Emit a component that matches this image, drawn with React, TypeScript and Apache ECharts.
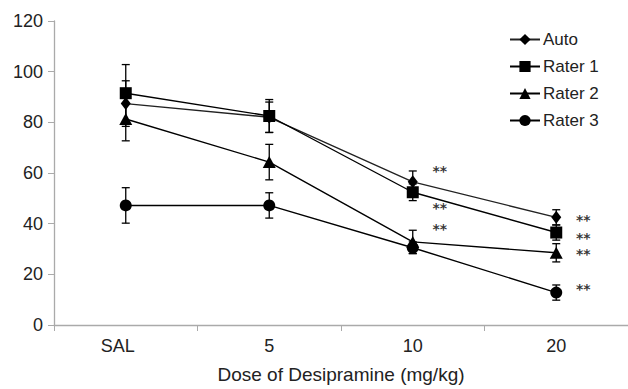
import React, { useEffect, useRef } from "react";
import * as echarts from "echarts";

const categories = ["SAL", "5", "10", "20"];
const autoValues = [87.4, 82, 56.5, 42.5];
const rater1Values = [91.5, 82.5, 52.4, 36.5];
const rater2Values = [81.3, 64.3, 32.8, 28.5];
const rater3Values = [47.2, 47.2, 30.5, 12.8];
const autoErr = [9, 6, 4.3, 3];
const rater1Err = [11.3, 6.5, 3.3, 3];
const rater2Err = [8.6, 7, 4.6, 3.6];
const rater3Err = [7, 5, 2.3, 3];
const starPoints = [
  [2, 63.1], [2, 48.5], [2, 40.4],
  [3, 43.8], [3, 36.9], [3, 30.4], [3, 16.5],
];
const yTicks = { min: 0, max: 120, interval: 20 };

const seriesDefs = [
  { name: "Auto", values: autoValues, err: autoErr, symbol: "diamond", size: [10, 13], color: "#222" },
  { name: "Rater 1", values: rater1Values, err: rater1Err, symbol: "rect", size: 12, color: "#000" },
  { name: "Rater 2", values: rater2Values, err: rater2Err, symbol: "triangle", size: [13, 12], color: "#000" },
  { name: "Rater 3", values: rater3Values, err: rater3Err, symbol: "circle", size: 12, color: "#000" },
];

const FONT = "'Liberation Sans', Arial, sans-serif";

export default function App() {
  const ref = useRef<HTMLDivElement>(null);
  useEffect(() => {
    if (!ref.current) return;
    const chart = echarts.init(ref.current, null, { renderer: "svg" });
    const errData: any[] = [];
    seriesDefs.forEach((s) => {
      s.values.forEach((v, i) => errData.push([i, v - s.err[i], v + s.err[i]]));
    });
    const series: any[] = [
      {
        type: "custom",
        name: "err",
        z: 1,
        data: errData,
        renderItem: (params: any, api: any) => {
          const x = api.value(0);
          const lo = api.coord([x, api.value(1)]);
          const hi = api.coord([x, api.value(2)]);
          const hw = 4;
          const style = { stroke: "#000", lineWidth: 1.3 };
          return {
            type: "group",
            children: [
              { type: "line", shape: { x1: lo[0], y1: lo[1], x2: hi[0], y2: hi[1] }, style },
              { type: "line", shape: { x1: lo[0] - hw, y1: lo[1], x2: lo[0] + hw, y2: lo[1] }, style },
              { type: "line", shape: { x1: hi[0] - hw, y1: hi[1], x2: hi[0] + hw, y2: hi[1] }, style },
            ],
          };
        },
      },
      ...seriesDefs.map((s) => ({
        type: "line",
        name: s.name,
        data: s.values,
        symbol: s.symbol,
        symbolSize: s.size,
        z: 3,
        lineStyle: { color: s.color, width: 1.4 },
        itemStyle: { color: "#000", borderWidth: 0 },
      })),
      {
        type: "scatter",
        name: "stars",
        data: starPoints,
        symbolSize: 1,
        itemStyle: { color: "transparent" },
        silent: true,
        label: {
          show: true,
          formatter: "**",
          position: "inside",
          offset: [27, 6],
          color: "#000",
          fontSize: 14,
          fontWeight: "bold",
          lineHeight: 14,
          fontFamily: "'DejaVu Sans', sans-serif",
        },
      },
    ];
    chart.setOption({
      animation: false,
      backgroundColor: "#fff",
      grid: { left: 54, right: -2, top: 21, bottom: 56 },
      legend: {
        data: seriesDefs.map((s) => s.name),
        orient: "vertical",
        left: 504,
        top: 26,
        itemWidth: 30,
        itemHeight: 14,
        itemGap: 10,
        textStyle: { fontSize: 17, color: "#222", fontFamily: FONT, padding: [0, 0, 0, -2] },
      },
      xAxis: {
        type: "category",
        data: categories,
        boundaryGap: true,
        axisLine: { lineStyle: { color: "#aaa", width: 1.3 } },
        axisTick: { show: true, length: 6, lineStyle: { color: "#aaa" } },
        axisLabel: {
          fontSize: 18,
          color: "#222",
          margin: 12,
          fontFamily: FONT,
          formatter: (v: string) => (v === "SAL" ? "{sal|" + v + "}" : v),
          rich: { sal: { fontSize: 18, color: "#222", fontFamily: FONT, padding: [0, 16, 0, 0] } },
        },
        name: "Dose of Desipramine (mg/kg)",
        nameLocation: "middle",
        nameGap: 40,
        nameTextStyle: { fontSize: 19, color: "#222", fontFamily: FONT },
      },
      yAxis: {
        type: "value",
        min: yTicks.min,
        max: yTicks.max,
        interval: yTicks.interval,
        axisLine: { show: true, lineStyle: { color: "#aaa", width: 1.3 } },
        axisTick: { show: true, length: 6, lineStyle: { color: "#aaa" } },
        splitLine: { show: false },
        axisLabel: { fontSize: 18, color: "#222", margin: 11, fontFamily: FONT },
      },
      series,
    });
    return () => chart.dispose();
  }, []);
  return <div ref={ref} style={{ width: 628, height: 389, position: "absolute", left: 0, top: 0 }} />;
}
